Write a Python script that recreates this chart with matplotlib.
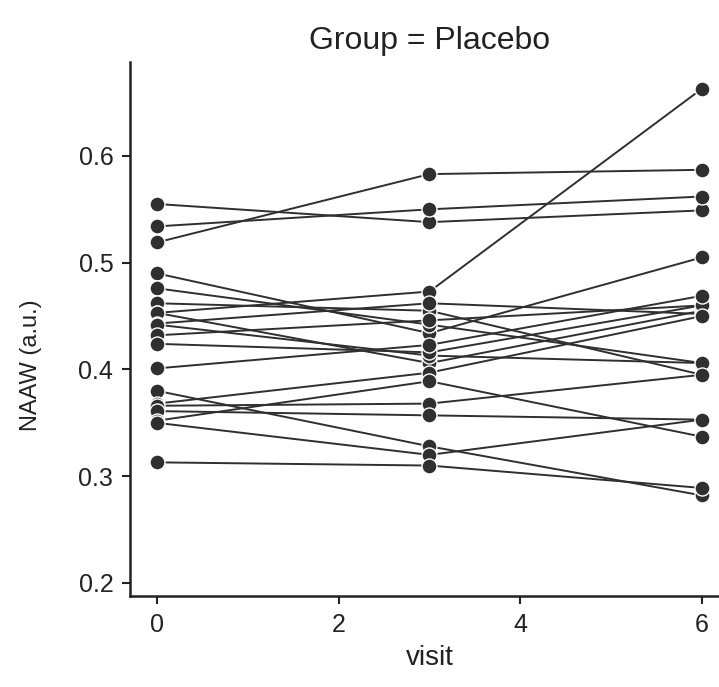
import matplotlib
matplotlib.use("Agg")
import matplotlib.pyplot as plt
import numpy as np

visits = [0, 3, 6]
# NAAW (a.u.) per subject at visits 0, 3, 6
subjects = {
    "s01": [0.555, 0.538, 0.549],
    "s02": [0.534, 0.550, 0.562],
    "s03": [0.519, 0.583, 0.587],
    "s04": [0.490, 0.434, 0.505],
    "s05": [0.476, 0.442, 0.406],
    "s06": [0.462, 0.455, 0.395],
    "s07": [0.453, 0.473, 0.663],
    "s08": [0.453, 0.406, 0.455],
    "s09": [0.443, 0.462, 0.452],
    "s10": [0.442, 0.413, 0.406],
    "s11": [0.432, 0.446, 0.460],
    "s12": [0.424, 0.416, 0.460],
    "s13": [0.401, 0.423, 0.469],
    "s14": [0.380, 0.328, 0.282],
    "s15": [0.368, 0.397, 0.450],
    "s16": [0.366, 0.368, 0.395],
    "s17": [0.361, 0.357, 0.353],
    "s18": [0.352, 0.389, 0.337],
    "s19": [0.350, 0.320, 0.353],
    "s20": [0.313, 0.310, 0.289],
}
title = "Group = Placebo"
xlabel = "visit"
ylabel = "NAAW (a.u.)"
xticks = [0, 2, 4, 6]
yticks = [0.2, 0.3, 0.4, 0.5, 0.6]

plt.rcParams['font.family'] = ['Liberation Sans', 'DejaVu Sans']
fig = plt.figure(figsize=(7.19, 6.87), dpi=100)
ax = fig.add_axes([130/719, 1-596/687, (729.5-130)/719, (596-62)/687])

col = '#2f2f2f'
for name, vals in subjects.items():
    ax.plot(visits, vals, color=col, lw=1.4, marker='o', markersize=10.8,
            markerfacecolor=col, markeredgecolor='white', markeredgewidth=1.0)

ax.set_xlim(-0.297, 6.303)
ax.set_ylim(0.1878, 0.688)
ax.set_xticks(xticks)
ax.set_yticks(yticks)
ax.set_yticklabels([f"{v:.1f}" for v in yticks])
for s in ['top', 'right']:
    ax.spines[s].set_visible(False)
for s in ['left', 'bottom']:
    ax.spines[s].set_linewidth(1.8)
    ax.spines[s].set_color('#222222')
ax.tick_params(axis='both', which='major', length=6, width=1.5, labelsize=18,
               colors='#222222', pad=6)
ax.set_xlabel(xlabel, fontsize=20, color='#222222', labelpad=6)
ax.set_ylabel(ylabel, fontsize=17, color='#222222')
ax.yaxis.set_label_coords(-0.147, 0.433)
ax.set_title(title, fontsize=23, color='#222222', pad=9)

fig.savefig("out.png", dpi=100)
